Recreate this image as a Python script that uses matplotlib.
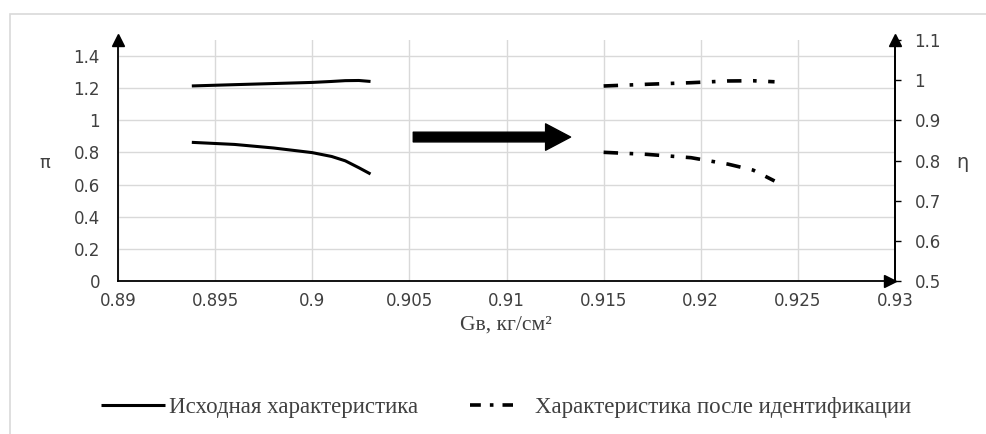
import numpy as np
import matplotlib
matplotlib.use('Agg')
import matplotlib.pyplot as plt
from matplotlib.patches import FancyArrowPatch, Rectangle
from matplotlib.lines import Line2D

plt.rcParams['font.family'] = 'DejaVu Sans'

## data
# source characteristic (left axis, pi)
g_src = [0.8938, 0.8960, 0.8980, 0.9000, 0.9010, 0.9017, 0.9024, 0.9030]
pi_src_up = [1.214, 1.222, 1.229, 1.236, 1.242, 1.247, 1.248, 1.242]
pi_src_low = [0.863, 0.850, 0.828, 0.799, 0.775, 0.748, 0.705, 0.666]

# characteristic after identification (right axis, eta)
g_id = [0.9150, 0.9172, 0.9195, 0.9214, 0.9227, 0.9238]
eta_id_up = [0.9855, 0.9897, 0.9937, 0.9980, 0.9985, 0.9960]
eta_id_low = [0.8204, 0.8154, 0.8070, 0.7910, 0.7760, 0.7490]

x_ticks = [0.89, 0.895, 0.9, 0.905, 0.91, 0.915, 0.92, 0.925, 0.93]
x_labels = ['0.89', '0.895', '0.9', '0.905', '0.91', '0.915', '0.92', '0.925', '0.93']
pi_ticks = [0, 0.2, 0.4, 0.6, 0.8, 1.0, 1.2, 1.4]
pi_labels = ['0', '0.2', '0.4', '0.6', '0.8', '1', '1.2', '1.4']
eta_ticks = [0.5, 0.6, 0.7, 0.8, 0.9, 1.0, 1.1]
eta_labels = ['0.5', '0.6', '0.7', '0.8', '0.9', '1', '1.1']

W, H = 987, 434
fig = plt.figure(figsize=(W / 100, H / 100), dpi=100)
ax = fig.add_axes([118 / W, 1 - 281 / H, (895 - 118) / W, (281 - 40) / H])
ax2 = ax.twinx()

# outer frame of the chart area
fig.patches.append(Rectangle((10 / W, -0.05), 1.1, 1 - 14 / H + 0.05,
                             transform=fig.transFigure, fill=False,
                             edgecolor='#d9d9d9', lw=1.2))

ax.set_xlim(0.89, 0.93)
ax.set_ylim(0, 1.5)
ax2.set_ylim(0.5, 1.1)

ax.set_xticks(x_ticks)
ax.set_xticklabels(x_labels)
ax.set_yticks(pi_ticks)
ax.set_yticklabels(pi_labels)
ax2.set_yticks(eta_ticks)
ax2.set_yticklabels(eta_labels)

ax.grid(True, color='#d9d9d9', lw=1)
ax.set_axisbelow(True)
for a in (ax, ax2):
    a.spines['top'].set_visible(False)
    for s in a.spines.values():
        s.set_color('black')
        s.set_linewidth(1.3)
ax2.spines['left'].set_visible(False)
ax2.spines['bottom'].set_visible(False)

tick_color = '#404040'
ax.tick_params(axis='y', length=0, pad=13, labelsize=12, labelcolor=tick_color)
ax.tick_params(axis='x', length=0, pad=8, labelsize=12, labelcolor=tick_color)
ax2.tick_params(axis='y', length=4, width=1, pad=10, labelsize=12,
                labelcolor=tick_color, color='black')

# curves
lw = 2.2
dash = (0, (4, 3.2, 1, 3.2))
l_src, = ax.plot(g_src, pi_src_up, color='black', lw=lw, solid_capstyle='butt')
ax.plot(g_src, pi_src_low, color='black', lw=lw, solid_capstyle='butt')
ax2.plot(g_id, eta_id_up, color='black', lw=2.6, linestyle=dash)
ax2.plot(g_id, eta_id_low, color='black', lw=2.6, linestyle=dash)

# axis arrows
ax.plot(0, 1, marker='^', color='black', ms=9, transform=ax.transAxes, clip_on=False)
ax.plot(1, 1, marker='^', color='black', ms=9, transform=ax.transAxes, clip_on=False)
ax.plot(0.993, 0, marker='>', color='black', ms=9, transform=ax.transAxes, clip_on=False)

# big arrow between the two groups
big = FancyArrowPatch((0.9052, 0.896), (0.9133, 0.896),
                      arrowstyle='simple,head_length=18,head_width=19,tail_width=7',
                      mutation_scale=1, color='black', shrinkA=0, shrinkB=0)
ax.add_patch(big)

# axis titles
fig.text(45 / W, 1 - 163 / H, 'π', fontsize=13, color=tick_color,
         ha='center', va='center')
fig.text(962 / W, 1 - 163 / H, 'η', fontsize=14, color=tick_color,
         ha='center', va='center')
fig.text(506 / W, 1 - 325 / H, 'Gв, кг/см²', fontsize=15.5, color=tick_color,
         ha='center', va='center', family='Liberation Serif')

# legend, two separate entries
leg_font = {'family': 'Liberation Serif', 'size': 16.5}
h_id = Line2D([], [], color='black', lw=2.6, linestyle=(0, (3, 2.5, 1, 2.5)))
leg1 = fig.legend([l_src], ['Исходная характеристика'], loc='center left',
                  bbox_to_anchor=(101 / W, 1 - 407 / H), frameon=False,
                  borderpad=0, borderaxespad=0, handlelength=2.8,
                  handletextpad=0.15, prop=leg_font, labelcolor=tick_color)
leg2 = fig.legend([h_id], ['Характеристика после идентификации'], loc='center left',
                  bbox_to_anchor=(470 / W, 1 - 407 / H), frameon=False,
                  borderpad=0, borderaxespad=0, handlelength=1.89,
                  handletextpad=0.96, prop=leg_font, labelcolor=tick_color)

fig.savefig('out.png', dpi=100)
